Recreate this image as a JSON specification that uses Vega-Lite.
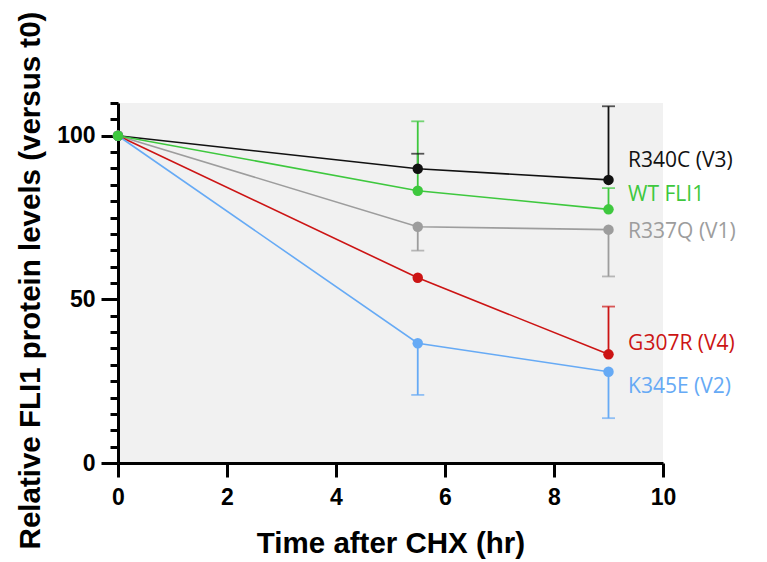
{
  "$schema": "https://vega.github.io/schema/vega-lite/v6.json",
  "width": 545,
  "height": 360,
  "autosize": "none",
  "padding": {"left": 118, "top": 103, "right": 104, "bottom": 99},
  "background": "white",
  "config": {"view": {"fill": "#f1f1f1", "stroke": null}},
  "datasets": {
    "pts": [
      {"series": "R340C (V3)", "t": 0, "v": 100},
      {"series": "R340C (V3)", "t": 5.5, "v": 89.9},
      {"series": "R340C (V3)", "t": 9, "v": 86.5},
      {"series": "R337Q (V1)", "t": 0, "v": 100},
      {"series": "R337Q (V1)", "t": 5.5, "v": 72.2},
      {"series": "R337Q (V1)", "t": 9, "v": 71.3},
      {"series": "G307R (V4)", "t": 0, "v": 100},
      {"series": "G307R (V4)", "t": 5.5, "v": 56.6},
      {"series": "G307R (V4)", "t": 9, "v": 33.2},
      {"series": "K345E (V2)", "t": 0, "v": 100},
      {"series": "K345E (V2)", "t": 5.5, "v": 36.6},
      {"series": "K345E (V2)", "t": 9, "v": 27.9},
      {"series": "WT FLI1", "t": 0, "v": 100},
      {"series": "WT FLI1", "t": 5.5, "v": 83.2},
      {"series": "WT FLI1", "t": 9, "v": 77.5}
    ],
    "err": [
      {"series": "R340C (V3)", "t": 5.5, "mean": 89.9, "v": 94.5},
      {"series": "R340C (V3)", "t": 9, "mean": 86.5, "v": 109},
      {"series": "R337Q (V1)", "t": 5.5, "mean": 72.2, "v": 64.9},
      {"series": "R337Q (V1)", "t": 9, "mean": 71.3, "v": 57.0},
      {"series": "G307R (V4)", "t": 9, "mean": 33.2, "v": 47.8},
      {"series": "K345E (V2)", "t": 5.5, "mean": 36.6, "v": 20.8},
      {"series": "K345E (V2)", "t": 9, "mean": 27.9, "v": 13.7},
      {"series": "WT FLI1", "t": 5.5, "mean": 83.2, "v": 104.4},
      {"series": "WT FLI1", "t": 9, "mean": 77.5, "v": 84.0}
    ],
    "labels": [
      {"series": "R340C (V3)", "t": 9.36, "v": 92.4},
      {"series": "WT FLI1", "t": 9.36, "v": 82.0},
      {"series": "R337Q (V1)", "t": 9.36, "v": 70.7},
      {"series": "G307R (V4)", "t": 9.36, "v": 36.5},
      {"series": "K345E (V2)", "t": 9.36, "v": 23.3}
    ]
  },
  "encoding": {
    "x": {"field": "t", "type": "quantitative", "scale": {"domain": [0, 10]},
      "axis": {"values": [0, 2, 4, 6, 8, 10], "title": "Time after CHX (hr)", "grid": false, "labelFlush": false,
        "domainColor": "black", "domainWidth": 3, "tickColor": "black", "tickWidth": 3, "tickSize": 14,
        "labelFont": "Liberation Sans", "labelFontWeight": "bold", "labelFontSize": 23, "labelColor": "black", "labelPadding": 9,
        "titleFont": "Liberation Sans", "titleFontWeight": "bold", "titleFontSize": 29.5, "titleColor": "black",
        "titleY": 89, "titleBaseline": "alphabetic"}},
    "y": {"field": "v", "type": "quantitative", "scale": {"domain": [0, 110]},
      "axis": {"values": [0, 5, 10, 15, 20, 25, 30, 35, 40, 45, 50, 55, 60, 65, 70, 75, 80, 85, 90, 95, 100, 105, 110],
        "labelExpr": "datum.value % 50 === 0 ? datum.label : ''", "labelOverlap": false,
        "title": "Relative FLI1 protein levels (versus t0)", "grid": false,
        "domainColor": "black", "domainWidth": 3, "tickColor": "black", "tickWidth": 3,
        "tickSize": {"condition": {"test": "datum.value % 50 === 0", "value": 17}, "value": 8},
        "labelFont": "Liberation Sans", "labelFontWeight": "bold", "labelFontSize": 23, "labelColor": "black", "labelPadding": 6,
        "titleFont": "Liberation Sans", "titleFontWeight": "bold", "titleFontSize": 29.5, "titleColor": "black",
        "titleX": -88, "titleY": 177, "titleAlign": "center", "titleBaseline": "middle", "titleAngle": -90}},
    "color": {"field": "series", "type": "nominal", "legend": null,
      "scale": {"domain": ["R340C (V3)", "WT FLI1", "R337Q (V1)", "G307R (V4)", "K345E (V2)"],
                "range": ["#111111", "#3ec83e", "#9d9d9d", "#cc1414", "#66aaf5"]}}
  },
  "layer": [
    {
      "data": {"name": "err"},
      "mark": {"type": "rule", "strokeWidth": 1.8},
      "encoding": {"y2": {"field": "mean"}}
    },
    {
      "data": {"name": "err"},
      "mark": {"type": "tick", "orient": "horizontal", "size": 13, "thickness": 1.8}
    },
    {
      "data": {"name": "pts"},
      "mark": {"type": "line", "strokeWidth": 1.6, "point": {"filled": true, "size": 110, "opacity": 1}}
    },
    {
      "data": {"name": "labels"},
      "mark": {"type": "text", "align": "left", "baseline": "middle", "font": "Open Sans", "fontSize": 21},
      "encoding": {"text": {"field": "series"}}
    }
  ]
}
